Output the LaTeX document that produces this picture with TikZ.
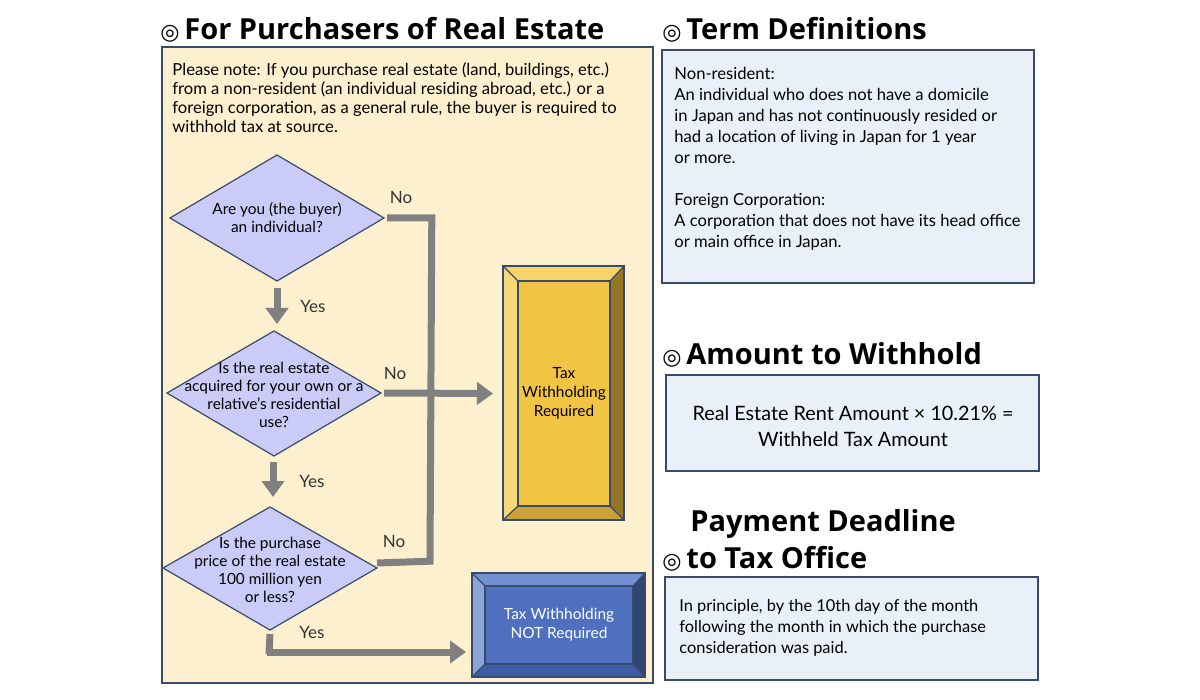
\documentclass[tikz,border=0pt]{standalone}
\usepackage{fontspec}
\setmainfont{Lato}
\newfontfamily\symf{DejaVu Sans}
\newfontfamily\titf{Open Sans}
\usetikzlibrary{arrows.meta,shapes.geometric}
\definecolor{panel}{HTML}{FCF0CE}
\definecolor{edge}{HTML}{3A4A6A}
\definecolor{lblue}{HTML}{E9F0FA}
\definecolor{dia}{HTML}{CACBF7}
\definecolor{arr}{HTML}{808080}
\definecolor{yf}{HTML}{F2C443}\definecolor{yt}{HTML}{F6D46A}\definecolor{yl}{HTML}{F7D878}\definecolor{yr}{HTML}{937726}\definecolor{yb}{HTML}{C9A33A}
\definecolor{bf}{HTML}{4F70BE}\definecolor{bt}{HTML}{7390D0}\definecolor{bl}{HTML}{8BA4DA}\definecolor{br}{HTML}{2F4576}\definecolor{bb}{HTML}{3E5CA6}
\begin{document}
\begin{tikzpicture}[x=0.5pt,y=-0.5pt,
 panelbox/.style={draw=edge,line width=0.8pt},
 title/.style={anchor=west,font=\titf\fontsize{14.5}{16}\selectfont\bfseries,inner sep=0},
 body/.style={anchor=north west,align=left,inner sep=0,font=\fontsize{8.3}{9.6}\selectfont},
 dtext/.style={align=center,inner sep=0,font=\fontsize{7.7}{9}\selectfont},
 lbl/.style={inner sep=0,font=\fontsize{8.5}{10}\selectfont,text=black!80},
 flow/.style={draw=arr,line width=3.5pt},
 flowa/.style={flow,-{Triangle[width=11pt,length=8pt]}},
 dm/.style={draw=edge,fill=dia,line width=0.6pt}]
\useasboundingbox (0,0) rectangle (1200,700);
% left panel
\draw[panelbox,fill=panel] (162,47) rectangle (653,683);
\node[title] (t1) at (160,30) {{\symf\fontsize{11}{12}\selectfont ◎}\,For Purchasers of Real Estate};
\node[body] (intro) at (172,62) {Please note: If you purchase real estate (land, buildings, etc.)\\from a non-resident (an individual residing abroad, etc.) or a\\foreign corporation, as a general rule, the buyer is required to\\withhold tax at source.};
% diamonds
\draw[dm] (170,218) coordinate(d1w) -- (277,155) -- (384,218) coordinate(d1e) -- (277,281) coordinate(d1s) -- cycle;
\node[dtext] (q1) at (277,218) {Are you (the buyer)\\an individual?};
\draw[dm] (167,393) -- (274,331) -- (381,393) coordinate(d2e) -- (274,456) coordinate(d2s) -- cycle;
\node[dtext] (q2) at (274,395) {Is the real estate\\acquired for your own or a\\relative's residential\\use?};
\draw[dm] (163,568) -- (270,507) -- (377,568) coordinate(d3e) -- (270,630) coordinate(d3s) -- cycle;
\node[dtext] (q3) at (270,570) {Is the purchase\\price of the real estate\\100 million yen\\or less?};
% result boxes
\fill[yt] (503,266)--(624,266)--(610,281)--(518,281)--cycle;
\fill[yl] (503,266)--(518,281)--(518,506)--(503,520)--cycle;
\fill[yr] (624,266)--(624,520)--(610,506)--(610,281)--cycle;
\fill[yb] (503,520)--(518,506)--(610,506)--(624,520)--cycle;
\draw[edge,line width=0.6pt] (503,266)--(518,281) (624,266)--(610,281) (503,520)--(518,506) (624,520)--(610,506);
\node[draw=edge,line width=0.6pt,fill=yf,minimum width=46pt,minimum height=112.5pt,inner sep=0,align=center,font=\fontsize{7.7}{9.5}\selectfont] (yes) at (564,393.5) {Tax\\Withholding\\Required};
\draw[edge,line width=0.8pt] (503,266) rectangle (624,520);
\fill[bt] (472,573)--(645,573)--(633,586)--(485,586)--cycle;
\fill[bl] (472,573)--(485,586)--(485,664)--(472,677)--cycle;
\fill[br] (645,573)--(645,677)--(633,664)--(633,586)--cycle;
\fill[bb] (472,677)--(485,664)--(633,664)--(645,677)--cycle;
\draw[edge,line width=0.6pt] (472,573)--(485,586) (645,573)--(633,586) (472,677)--(485,664) (645,677)--(633,664);
\node[draw=edge,line width=0.6pt,fill=bf,minimum width=74pt,minimum height=39pt,inner sep=0,align=center,text=white,font=\fontsize{7.7}{9.5}\selectfont] (no) at (559,625) {Tax Withholding\\NOT Required};
\draw[edge,line width=0.8pt] (472,573) rectangle (645,677);
% flows
\coordinate (c1) at (430,218);
\coordinate (c3) at (430,563);
\coordinate (b3) at (269,652);
\draw[flow] ([xshift=1.5pt]d1e) -- ([xshift=0.9pt]c1) -- ([yshift=0.9pt]c3) -- (d3e|-c3);
\draw[flowa] ([xshift=1.5pt]d2e) -- (yes.west-|493,393) ;
\draw[flowa] (277,288) -- (277,324);
\draw[flowa] (273,462) -- (273,497);
\draw[flow] ([yshift=-2pt]d3s) -- ([yshift=-0.9pt]b3) -- (b3);
\draw[flowa] ([xshift=-0.9pt]b3) -- (466,652);
\node[lbl] (n1) at (401,197) {No};
\node[lbl] (n2) at (395,373) {No};
\node[lbl] (n3) at (394,541) {No};
\node[lbl] (y1) at (313,306) {Yes};
\node[lbl] (y2) at (312,481) {Yes};
\node[lbl] (y3) at (312,632) {Yes};
% right side
\node[title] (t2) at (662,30) {{\symf\fontsize{11}{12}\selectfont ◎}\,Term Definitions};
\draw[panelbox,fill=lblue] (662,50) rectangle (1034,283);
\node[body,font=\fontsize{8.3}{10.5}\selectfont] (def) at (674,67) {Non-resident:\\An individual who does not have a domicile\\in Japan and has not continuously resided or\\had a location of living in Japan for 1 year\\or more.\\[10.5pt]Foreign Corporation:\\A corporation that does not have its head office\\or main office in Japan.};
\node[title] (t3) at (662,355) {{\symf\fontsize{11}{12}\selectfont ◎}\,Amount to Withhold};
\draw[panelbox,fill=lblue] (666,375) rectangle (1039,471);
\node[align=center,inner sep=0,font=\fontsize{9.9}{13}\selectfont] (amt) at (853,426) {Real Estate Rent Amount × 10.21\% =\\Withheld Tax Amount};
\node[title] (t4a) at (690,524) {Payment Deadline};
\node[title] (t4) at (662,559) {{\symf\fontsize{11}{12}\selectfont ◎}\,to Tax Office};
\draw[panelbox,fill=lblue] (665,577) rectangle (1038,680);
\node[body,font=\fontsize{8.2}{10.5}\selectfont] (pay) at (679,599) {In principle, by the 10th day of the month\\following the month in which the purchase\\consideration was paid.};
\end{tikzpicture}
\end{document}
